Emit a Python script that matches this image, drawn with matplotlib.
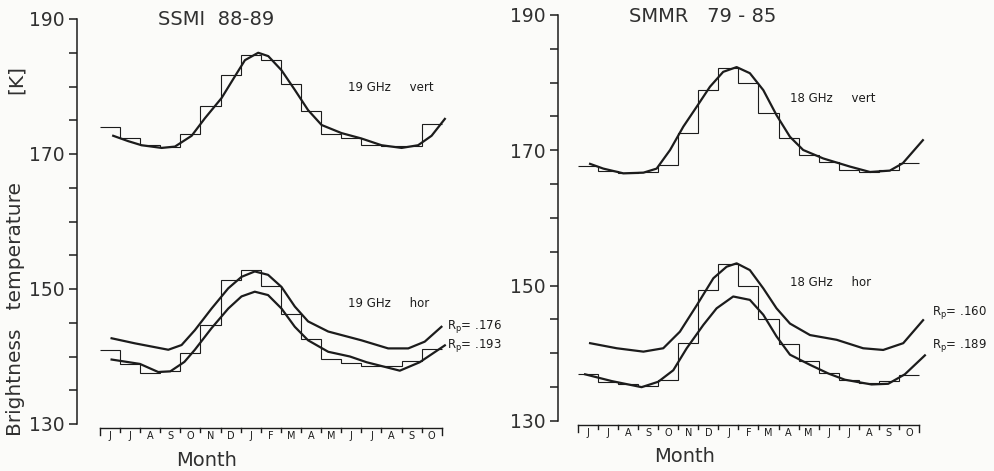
import numpy as np
import matplotlib.pyplot as plt
import matplotlib.transforms as mtransforms

plt.rcParams['font.family'] = 'DejaVu Sans'

# month strip along the bottom (Jun .. Oct of the next year)
months = list("JJASONDJFMAMJJASO")
edges = np.arange(len(months) + 1)

# ---- SSMI 88-89, 19 GHz ----
ssmi_v_steps = [174.0, 172.3, 171.3, 171.0, 173.0, 177.1, 181.7, 184.7, 184.0,
                180.4, 176.4, 172.9, 172.3, 171.3, 171.2, 171.2, 174.4]
ssmi_v_x = [0.66, 1.41, 2.07, 3.07, 3.73, 4.56, 5.22, 6.05, 6.71, 7.21, 7.87, 8.37, 9.03,
            9.69, 10.35, 11.02, 12.01, 13.0, 14.0, 15.0, 15.82, 16.49, 17.15]
ssmi_v_y = [172.7, 171.9, 171.3, 170.9, 171.1, 172.7, 175.3, 178.3, 181.5, 183.9, 185.0, 184.5, 182.4,
            179.5, 176.5, 174.3, 173.1, 172.3, 171.3, 170.9, 171.3, 172.7, 175.2]

ssmi_h_steps = [140.9, 138.9, 137.55, 137.9, 140.55, 144.65, 151.4, 152.75, 150.4,
                146.25, 142.65, 139.65, 139.05, 138.65, 138.55, 139.4, 141.05]
ssmi_h176_x = [0.58, 1.74, 3.4, 4.06, 4.72, 5.55, 6.38, 7.04, 7.7, 8.36, 9.03, 9.69,
               10.35, 11.35, 13.0, 14.33, 15.33, 16.15, 16.98]
ssmi_h176_y = [142.7, 141.95, 141.0, 141.7, 143.9, 147.1, 150.1, 151.8, 152.6, 152.1, 150.3, 147.4,
               145.2, 143.7, 142.4, 141.2, 141.2, 142.2, 144.4]
ssmi_h193_x = [0.58, 1.99, 2.9, 3.5, 4.2, 4.72, 5.55, 6.38, 7.04, 7.7, 8.36, 9.03, 9.69,
               10.35, 11.35, 12.43, 13.26, 14.91, 15.9, 17.15]
ssmi_h193_y = [139.55, 138.9, 137.7, 137.8, 139.2, 141.0, 144.2, 147.1, 148.9, 149.6, 149.1, 147.1, 144.4,
               142.4, 140.7, 140.0, 139.15, 137.9, 139.15, 141.65]

# ---- SMMR 79-85, 18 GHz ----
smmr_v_steps = [167.7, 166.9, 166.7, 166.8, 167.8, 172.5, 178.9, 182.1, 179.9,
                175.5, 171.8, 169.3, 168.3, 167.1, 166.85, 167.1, 168.1]
smmr_v_x = [0.6, 1.26, 2.26, 3.26, 3.92, 4.59, 5.25, 5.92, 6.58, 7.24, 7.91, 8.57, 9.24,
            9.9, 10.57, 11.23, 12.23, 13.56, 14.56, 15.55, 16.2, 17.2]
smmr_v_y = [168.0, 167.3, 166.6, 166.7, 167.3, 170.05, 173.5, 176.45, 179.4, 181.6, 182.3, 181.4, 178.9,
            175.2, 172.0, 170.05, 168.8, 167.6, 166.8, 167.0, 168.1, 171.5]

smmr_h_steps = [136.9, 135.7, 135.4, 135.2, 136.0, 141.5, 149.3, 153.2, 150.0,
                145.1, 141.4, 138.8, 137.1, 136.1, 135.6, 135.9, 136.8]
smmr_h160_x = [0.6, 1.93, 3.26, 4.25, 5.08, 5.92, 6.75, 7.41, 7.91, 8.57, 9.24, 9.9,
               10.57, 11.57, 12.9, 14.22, 15.22, 16.22, 17.21]
smmr_h160_y = [141.5, 140.75, 140.25, 140.75, 143.2, 147.1, 151.1, 152.8, 153.3, 152.3, 149.6, 146.65,
               144.4, 142.7, 142.0, 140.75, 140.5, 141.5, 144.9]
smmr_h189_x = [0.35, 1.68, 3.17, 4.0, 4.75, 5.42, 6.25, 6.91, 7.74, 8.57, 9.24, 9.9,
               10.57, 11.57, 12.5, 13.31, 14.64, 15.47, 16.3, 17.3]
smmr_h189_y = [136.9, 135.9, 135.0, 135.8, 137.5, 140.75, 144.2, 146.65, 148.4, 147.9, 145.7, 142.5,
               139.8, 138.3, 137.0, 136.1, 135.4, 135.5, 136.9, 139.7]

ink = '#1c1c1c'
txt = '#303030'
bg = '#fbfbf9'

fig = plt.figure(figsize=(9.95, 4.71), dpi=100, facecolor=bg)


def month_strip(ax, h_px):
    # horizontal line with tick marks and month letters just under the axes
    tr = mtransforms.blended_transform_factory(ax.transData, ax.transAxes)
    y0 = -4 / h_px
    ax.plot([edges[0], edges[-1]], [y0, y0], color=ink, lw=1.0, transform=tr, clip_on=False)
    for i, e in enumerate(edges):
        ln = 7 if i in (0, len(edges) - 1) else 4
        ax.plot([e, e], [y0, y0 - ln / h_px], color=ink, lw=1.0, transform=tr, clip_on=False)
    for i, m in enumerate(months):
        ax.text(i + 0.5, y0 - 8 / h_px, m, transform=tr, ha='center', va='center',
                fontsize=7, color=ink)


def style_axes(ax):
    ax.set_facecolor(bg)
    for s in ('top', 'right', 'bottom'):
        ax.spines[s].set_visible(False)
    ax.spines['left'].set_color(ink)
    ax.spines['left'].set_linewidth(1.1)
    ax.set_ylim(130, 190)
    ax.set_yticks([130, 150, 170, 190])
    ax.set_yticks(np.arange(130, 191, 5), minor=True)
    ax.tick_params(axis='y', which='both', direction='out', length=6, width=1.1,
                   color=ink, labelsize=13.5, labelcolor=txt, pad=3)
    ax.tick_params(axis='x', bottom=False, labelbottom=False)


def draw_panel(ax, v_steps, h_steps, curves):
    ax.stairs(v_steps, edges, baseline=None, color=ink, lw=0.8)
    ax.stairs(h_steps, edges, baseline=None, color=ink, lw=0.8)
    for cx, cy in curves:
        ax.plot(cx, cy, color=ink, lw=1.6, solid_joinstyle='round')


# left panel
ax1 = fig.add_axes([77 / 995, 47 / 471, 395 / 995, 405 / 471])
ax1.set_xlim(-1.14, 18.5)
style_axes(ax1)
draw_panel(ax1, ssmi_v_steps, ssmi_h_steps,
           [(ssmi_v_x, ssmi_v_y), (ssmi_h176_x, ssmi_h176_y), (ssmi_h193_x, ssmi_h193_y)])
month_strip(ax1, 405)
ax1.text(5.77, 189.9, 'SSMI  88-89', ha='center', va='center', fontsize=14, color=txt)
ax1.text(12.33, 179.9, '19 GHz     vert', ha='left', va='center', fontsize=8.5, color=ink)
ax1.text(12.33, 147.9, '19 GHz     hor', ha='left', va='center', fontsize=8.5, color=ink)
ax1.text(17.25, 144.4, r'R$_\mathrm{p}$= .176', ha='left', va='center', fontsize=8.5, color=ink)
ax1.text(17.25, 141.7, r'R$_\mathrm{p}$= .193', ha='left', va='center', fontsize=8.5, color=ink)

# right panel
ax2 = fig.add_axes([558 / 995, 50 / 471, 411 / 995, 406 / 471])
ax2.set_xlim(-1.0, 19.5)
style_axes(ax2)
draw_panel(ax2, smmr_v_steps, smmr_h_steps,
           [(smmr_v_x, smmr_v_y), (smmr_h160_x, smmr_h160_y), (smmr_h189_x, smmr_h189_y)])
month_strip(ax2, 406)
ax2.text(6.23, 189.8, 'SMMR   79 - 85', ha='center', va='center', fontsize=14, color=txt)
ax2.text(10.57, 177.7, '18 GHz     vert', ha='left', va='center', fontsize=8.5, color=ink)
ax2.text(10.57, 150.4, '18 GHz     hor', ha='left', va='center', fontsize=8.5, color=ink)
ax2.text(17.65, 146.0, r'R$_\mathrm{p}$= .160', ha='left', va='center', fontsize=8.5, color=ink)
ax2.text(17.65, 141.2, r'R$_\mathrm{p}$= .189', ha='left', va='center', fontsize=8.5, color=ink)

# axis labels
fig.text(16 / 995, 1 - 309 / 471, 'Brightness   temperature', rotation=90,
         ha='center', va='center', fontsize=14.5, color=txt)
fig.text(16 / 995, 1 - 80 / 471, '[K]', rotation=90,
         ha='center', va='center', fontsize=14.5, color=txt)
fig.text(207 / 995, 1 - 460 / 471, 'Month', ha='center', va='center', fontsize=14, color=txt)
fig.text(685 / 995, 1 - 457 / 471, 'Month', ha='center', va='center', fontsize=14, color=txt)

fig.savefig('out.png', dpi=100, facecolor=bg)
